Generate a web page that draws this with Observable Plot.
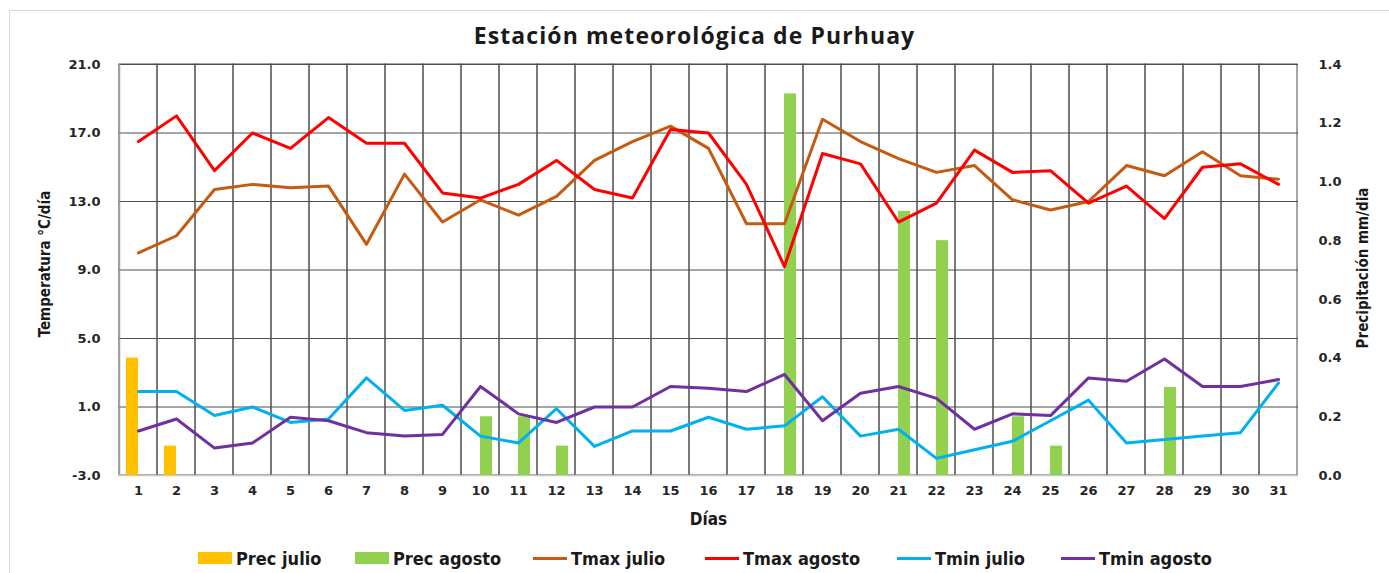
<!DOCTYPE html>
<html>
<head>
<meta charset="utf-8">
<script src="https://cdn.jsdelivr.net/npm/d3@7"></script>
<script src="https://cdn.jsdelivr.net/npm/@observablehq/plot@0.6"></script>
<style>
  body { margin: 0; background: #fff; }
  #wrap { position: relative; width: 1389px; height: 573px; overflow: hidden; background: #fff; }
  #border { position: absolute; left: 9px; top: 10px; width: 1400px; height: 600px;
            border-left: 1px solid #d9d9d9; border-top: 1px solid #d9d9d9; }
  #title { position: absolute; top: 19px; left: 0; width: 1389px; text-align: center;
           font: bold 23px "Open Sans", "Liberation Sans", sans-serif; letter-spacing: 1.1px; color: #1a1a1a; }
  #chart { position: absolute; top: 50px; left: 0; }
  #legend { position: absolute; top: 547px; left: 0; width: 1389px; height: 22px;
            font: bold 18px "Liberation Sans Narrow", "DejaVu Sans Condensed", sans-serif; color: #1a1a1a; }
  .item { position: absolute; top: 0; display: flex; align-items: center; height: 22px; white-space: nowrap; }
  .sw-bar { width: 34px; height: 12px; margin-right: 4px; }
  .sw-line { width: 34px; height: 3px; margin-right: 4px; }
</style>
</head>
<body>
<div id="wrap">
  <div id="border"></div>
  <div id="title">Estación meteorológica de Purhuay</div>
  <div id="chart"></div>
  <div id="legend"></div>
</div>
<script>
// ---- data ----
const days = [1,2,3,4,5,6,7,8,9,10,11,12,13,14,15,16,17,18,19,20,21,22,23,24,25,26,27,28,29,30,31];
const tmaxJulio  = [10.0,11.0,13.7,14.0,13.8,13.9,10.5,14.6,11.8,13.1,12.2,13.3,15.4,16.5,17.4,16.1,11.7,11.7,17.8,16.5,15.5,14.7,15.1,13.1,12.5,13.0,15.1,14.5,15.9,14.5,14.3];
const tmaxAgosto = [16.5,18.0,14.8,17.0,16.1,17.9,16.4,16.4,13.5,13.2,14.0,15.4,13.7,13.2,17.2,17.0,14.0,9.2,15.8,15.2,11.8,12.9,16.0,14.7,14.8,12.9,13.9,12.0,15.0,15.2,14.0];
const tminJulio  = [1.9,1.9,0.5,1.0,0.1,0.3,2.7,0.8,1.1,-0.7,-1.1,0.9,-1.3,-0.4,-0.4,0.4,-0.3,-0.1,1.6,-0.7,-0.3,-2.0,-1.5,-1.0,0.2,1.4,-1.1,-0.9,-0.7,-0.5,2.4];
const tminAgosto = [-0.4,0.3,-1.4,-1.1,0.4,0.2,-0.5,-0.7,-0.6,2.2,0.6,0.1,1.0,1.0,2.2,2.1,1.9,2.9,0.2,1.8,2.2,1.5,-0.3,0.6,0.5,2.7,2.5,3.8,2.2,2.2,2.6];
const precJulio  = [0.4,0.1,0,0,0,0,0,0,0,0,0,0,0,0,0,0,0,0,0,0,0,0,0,0,0,0,0,0,0,0,0];
const precAgosto = [0,0,0,0,0,0,0,0,0,0.2,0.2,0.1,0,0,0,0,0,1.3,0,0,0.9,0.8,0,0.2,0.1,0,0,0.3,0,0,0];
const tempTicks = [-3,1,5,9,13,17,21];
const precTicks = [0,0.2,0.4,0.6,0.8,1.0,1.2,1.4];

const series = [
  {name: "Prec julio",  kind: "bar",  color: "#FFC000"},
  {name: "Prec agosto", kind: "bar",  color: "#92D050"},
  {name: "Tmax julio",  kind: "line", color: "#C55A11"},
  {name: "Tmax agosto", kind: "line", color: "#FF0000"},
  {name: "Tmin julio",  kind: "line", color: "#00B0F0"},
  {name: "Tmin agosto", kind: "line", color: "#7030A0"}
];
const legendLeft = [198, 355, 533, 705, 897, 1061];

// ---- scales mapping (precipitation on secondary axis) ----
const tMin = -3, tMax = 21, pMax = 1.4;
const toTemp = p => tMin + p * (tMax - tMin) / pMax;
const toPrec = t => (t - tMin) * pMax / (tMax - tMin);

const rows = arr => days.map((d, i) => ({day: d, v: arr[i]}));
const precJ = rows(precJulio).filter(d => d.v > 0);
const precA = rows(precAgosto).filter(d => d.v > 0);

const labelFont = '"Liberation Sans Narrow", "DejaVu Sans Condensed", sans-serif';

const chart = Plot.plot({
  width: 1389, height: 485,
  marginLeft: 118, marginRight: 91, marginTop: 14, marginBottom: 60,
  style: {fontFamily: '"DejaVu Sans", Verdana, sans-serif', fontSize: "13px", fontWeight: "bold", color: "#262626", background: "transparent", overflow: "visible"},
  x: {type: "band", domain: days, padding: 0},
  y: {domain: [tMin, tMax]},
  marks: [
    Plot.barY(days, {x: d => d, y1: tMin, y2: tMax, fill: "none", stroke: "#4d4d4d", strokeWidth: 1}),
    Plot.ruleY(tempTicks, {stroke: "#4d4d4d", strokeWidth: 1}),
    Plot.ruleY([tMin], {stroke: "#c8c8c8", strokeWidth: 1.5}),
    Plot.ruleX([days[0]], {x: d => d, y1: tMin, y2: tMax, stroke: "#a0a0a0", strokeWidth: 1.5, dx: -19}),
    Plot.barY(precJ, {x: "day", y1: tMin, y2: d => toTemp(d.v), fill: series[0].color, insetLeft: 7, insetRight: 19}),
    Plot.barY(precA, {x: "day", y1: tMin, y2: d => toTemp(d.v), fill: series[1].color, insetLeft: 19, insetRight: 7}),
    Plot.line(rows(tmaxJulio),  {x: "day", y: "v", stroke: series[2].color, strokeWidth: 3}),
    Plot.line(rows(tmaxAgosto), {x: "day", y: "v", stroke: series[3].color, strokeWidth: 3}),
    Plot.line(rows(tminJulio),  {x: "day", y: "v", stroke: series[4].color, strokeWidth: 3}),
    Plot.line(rows(tminAgosto), {x: "day", y: "v", stroke: series[5].color, strokeWidth: 3}),
    Plot.axisX({tickSize: 0, tickPadding: 10, label: null, fontSize: 13}),
    Plot.axisY({anchor: "left", ticks: tempTicks, tickFormat: d => d.toFixed(1), tickSize: 0, tickPadding: 18, label: null}),
    Plot.axisY({anchor: "right", ticks: precTicks.map(toTemp), tickFormat: v => toPrec(v).toFixed(1), tickSize: 0, tickPadding: 20, label: null}),
    Plot.text(["Temperatura °C/día"], {frameAnchor: "left", textAnchor: "middle", dx: -73, dy: -6, rotate: -90, fontFamily: labelFont, fontSize: 15, fontWeight: "bold", fill: "#1a1a1a"}),
    Plot.text(["Precipitación mm/dia"], {frameAnchor: "right", textAnchor: "middle", dx: 65, dy: -2, rotate: -90, fontFamily: labelFont, fontSize: 15, fontWeight: "bold", fill: "#1a1a1a"}),
    Plot.text(["Días"], {frameAnchor: "bottom", dy: 49, fontFamily: labelFont, fontSize: 17, fontWeight: "bold", fill: "#1a1a1a"})
  ]
});
document.getElementById("chart").appendChild(chart);

// ---- legend ----
const legend = document.getElementById("legend");
series.forEach((s, i) => {
  const item = document.createElement("div");
  item.className = "item";
  item.style.left = legendLeft[i] + "px";
  const sw = document.createElement("span");
  sw.className = s.kind === "bar" ? "sw-bar" : "sw-line";
  sw.style.background = s.color;
  const t = document.createElement("span");
  t.textContent = s.name;
  item.appendChild(sw); item.appendChild(t);
  legend.appendChild(item);
});
</script>
</body>
</html>
